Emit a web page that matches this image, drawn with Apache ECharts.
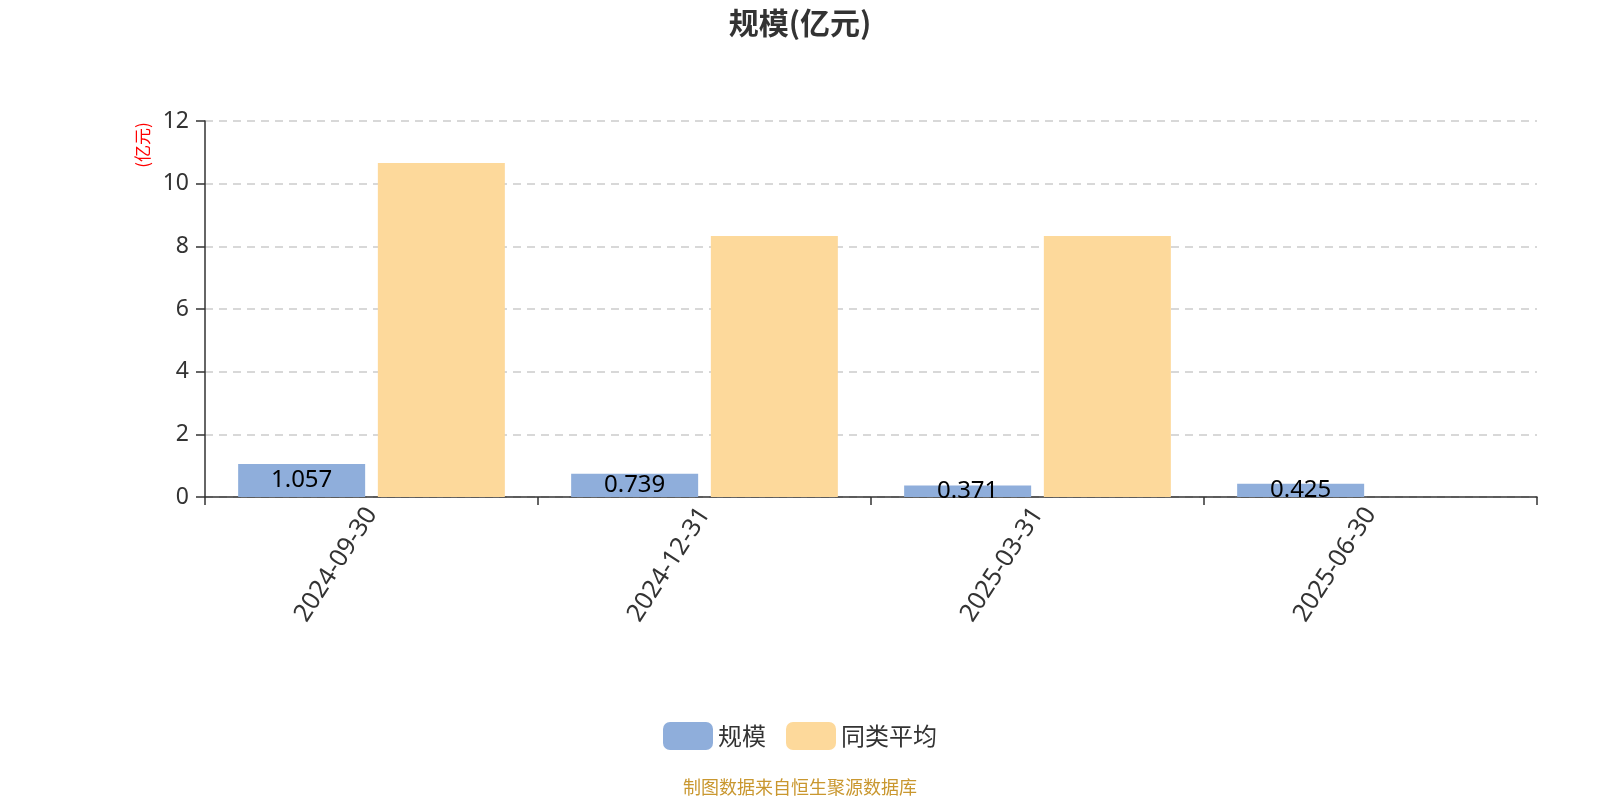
<!DOCTYPE html>
<html><head><meta charset="utf-8">
<script src="https://cdn.jsdelivr.net/npm/echarts@6/dist/echarts.min.js"></script>
<style>html,body{margin:0;padding:0;background:#fff}#c{width:1600px;height:800px}</style>
</head><body><div id="c"></div>
<script>
const categories = ['2024-09-30', '2024-12-31', '2025-03-31', '2025-06-30'];
const scaleValues = [1.057, 0.739, 0.371, 0.425];
const avgValues = [10.66, 8.33, 8.33, null];
const seriesNames = ['规模', '同类平均'];

const chart = echarts.init(document.getElementById('c'));
chart.setOption({
  animation: false,
  title: { text: '规模(亿元)', left: 'center', top: 3,
    textStyle: { fontSize: 30, fontWeight: 'bold', color: '#333', fontFamily: 'Noto Sans CJK SC' } },
  grid: { left: 205, right: 63, top: 121, bottom: 303 },
  legend: { bottom: 45, left: 'center', itemWidth: 50, itemHeight: 28, itemGap: 20,
    textStyle: { fontSize: 24, color: '#333', fontFamily: 'Noto Sans CJK SC' },
    data: seriesNames },
  graphic: [
    { type: 'text', left: 'center', top: 778,
      style: { text: '制图数据来自恒生聚源数据库', fill: '#c9972f', fontSize: 18, fontFamily: 'Noto Sans CJK SC' } },
    { type: 'text', x: 143, y: 145, rotation: Math.PI / 2,
      style: { text: '(亿元)', fill: '#ff0000', fontSize: 17, fontFamily: 'Noto Sans CJK SC', align: 'center', verticalAlign: 'middle' } }
  ],
  xAxis: { type: 'category', data: categories,
    axisLine: { lineStyle: { color: '#333', width: 1.5 } },
    axisTick: { show: true, length: 8, lineStyle: { color: '#333', width: 1.5 } },
    axisLabel: { rotate: 57, fontSize: 25, color: '#333', margin: 13, fontFamily: 'Noto Sans' } },
  yAxis: { type: 'value', min: 0, max: 12, interval: 2,
    axisLine: { show: true, lineStyle: { color: '#333', width: 1.5 } },
    axisTick: { show: true, length: 9, lineStyle: { color: '#333', width: 1.5 } },
    splitLine: { lineStyle: { type: [8, 6], color: '#ccc', width: 1.5 } },
    axisLabel: { fontSize: 23, color: '#333', margin: 16, fontFamily: 'Noto Sans' } },
  series: [
    { name: seriesNames[0], type: 'bar', data: scaleValues, barWidth: 127, barGap: '10%',
      itemStyle: { color: '#8faedb' },
      label: { show: true, position: 'inside', fontSize: 24, color: '#000', fontFamily: 'Noto Sans' } },
    { name: seriesNames[1], type: 'bar', data: avgValues, barWidth: 127, barGap: '10%',
      itemStyle: { color: '#fdd99b' } }
  ]
});
</script></body></html>
